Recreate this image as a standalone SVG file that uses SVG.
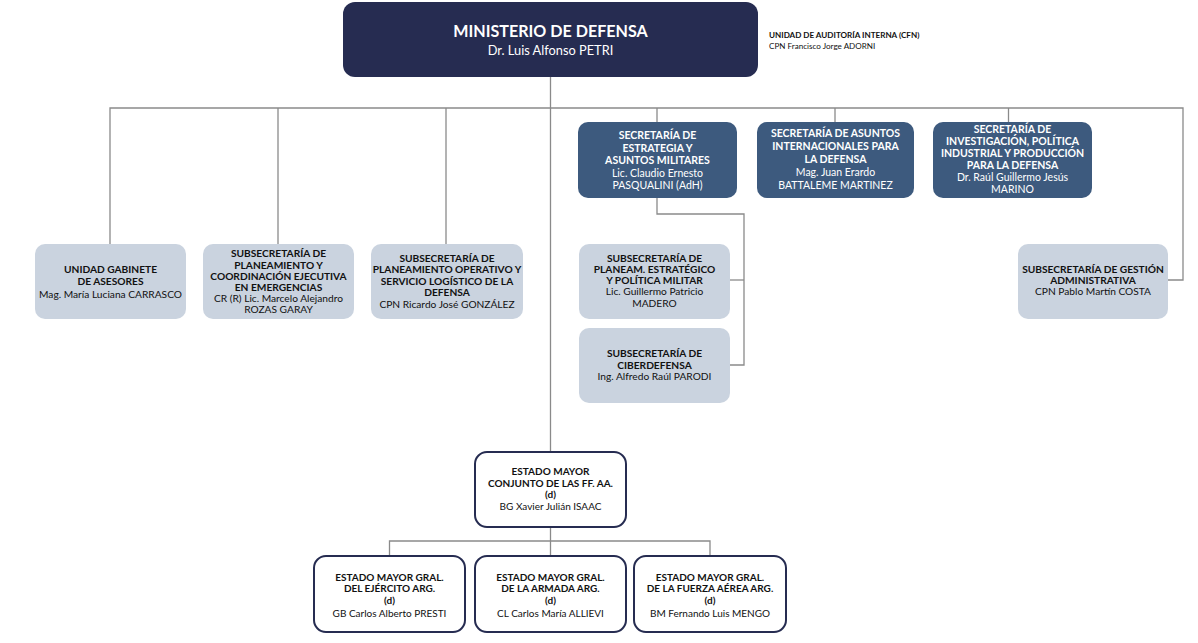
<svg xmlns="http://www.w3.org/2000/svg" width="1198" height="643" viewBox="0 0 1198 643">
<style>
text{font-family:Lato,"Liberation Sans",sans-serif;text-anchor:middle;font-size:10.2px;fill:#111}
.b{font-weight:bold}
.w{fill:#fff;font-size:10.5px}
.e{font-size:10px}
.sec{fill:#3d5a7e}
.sub{fill:#cad3df}
.emc{fill:#fff;stroke:#262c51;stroke-width:2}
.con{fill:none;stroke:#8a8a8a;stroke-width:1.3}
</style>
<rect width="1198" height="643" fill="#fff"/>
<g id="connectors" class="con">
<line x1="550.5" y1="77" x2="550.5" y2="452"/>
<polyline points="110,244 110,108 1183,108 1183,280 1168,280"/>
<line x1="278" y1="108" x2="278" y2="244"/>
<line x1="446" y1="108" x2="446" y2="244"/>
<line x1="657" y1="108" x2="657" y2="122"/>
<line x1="835" y1="108" x2="835" y2="122"/>
<line x1="1008.5" y1="108" x2="1008.5" y2="122"/>
<polyline points="657,198 657,214 744,214 744,365 730,365"/>
<line x1="730" y1="280" x2="744" y2="280"/>
<polyline points="389.5,556 389.5,541 710,541 710,556"/>
<line x1="550.5" y1="527" x2="550.5" y2="556"/>
</g>
<g id="ministerio">
<rect x="343" y="2" width="415" height="75" rx="12" fill="#262c51"/>
<text x="550.5" y="37" class="b" style="font-size:16.1px;fill:#fff">MINISTERIO DE DEFENSA</text>
<text x="550.5" y="55" style="font-size:12.8px;fill:#fff">Dr. Luis Alfonso PETRI</text>
</g>
<g id="auditoria">
<text x="769" y="38" class="b" style="text-anchor:start;font-size:8.1px">UNIDAD DE AUDITORÍA INTERNA (CFN)</text>
<text x="769" y="49" style="text-anchor:start;font-size:8.1px">CPN Francisco Jorge ADORNI</text>
</g>
<g id="sec-estrategia">
<rect x="578" y="122" width="159" height="76" rx="10" class="sec"/>
<text x="657.5" y="139" class="b w">SECRETARÍA DE</text>
<text x="657.5" y="151.5" class="b w">ESTRATEGIA Y</text>
<text x="657.5" y="164" class="b w">ASUNTOS MILITARES</text>
<text x="657.5" y="176.5" class="w">Lic. Claudio Ernesto</text>
<text x="657.5" y="189" class="w">PASQUALINI (AdH)</text>
</g>
<g id="sec-internacionales">
<rect x="757" y="122" width="157" height="76" rx="10" class="sec"/>
<text x="835.5" y="137" class="b w">SECRETARÍA DE ASUNTOS</text>
<text x="835.5" y="150" class="b w">INTERNACIONALES PARA</text>
<text x="835.5" y="163" class="b w">LA DEFENSA</text>
<text x="835.5" y="176" class="w">Mag. Juan Erardo</text>
<text x="835.5" y="189" class="w">BATTALEME MARTINEZ</text>
</g>
<g id="sec-investigacion">
<rect x="933" y="122" width="159" height="76" rx="10" class="sec"/>
<text x="1012.5" y="133" class="b w">SECRETARÍA DE</text>
<text x="1012.5" y="145" class="b w">INVESTIGACIÓN, POLÍTICA</text>
<text x="1012.5" y="157" class="b w">INDUSTRIAL Y PRODUCCIÓN</text>
<text x="1012.5" y="169" class="b w">PARA LA DEFENSA</text>
<text x="1012.5" y="181" class="w">Dr. Raúl Guillermo Jesús</text>
<text x="1012.5" y="193" class="w">MARINO</text>
</g>
<g id="gabinete">
<rect x="35" y="244" width="151" height="75" rx="10" class="sub"/>
<text x="110.5" y="272.5" class="b">UNIDAD GABINETE</text>
<text x="110.5" y="285" class="b">DE ASESORES</text>
<text x="110.5" y="297.5">Mag. María Luciana CARRASCO</text>
</g>
<g id="sub-emergencias">
<rect x="203" y="244" width="151" height="75" rx="10" class="sub"/>
<text x="278.5" y="257.3" class="b">SUBSECRETARÍA DE</text>
<text x="278.5" y="268.5" class="b">PLANEAMIENTO Y</text>
<text x="278.5" y="279.7" class="b">COORDINACIÓN EJECUTIVA</text>
<text x="278.5" y="290.9" class="b">EN EMERGENCIAS</text>
<text x="278.5" y="302.1">CR (R) Lic. Marcelo Alejandro</text>
<text x="278.5" y="313.3">ROZAS GARAY</text>
</g>
<g id="sub-logistico">
<rect x="371" y="244" width="152" height="75" rx="10" class="sub"/>
<text x="447" y="261.5" class="b">SUBSECRETARÍA DE</text>
<text x="447" y="273.1" class="b">PLANEAMIENTO OPERATIVO Y</text>
<text x="447" y="284.7" class="b">SERVICIO LOGÍSTICO DE LA</text>
<text x="447" y="296.3" class="b">DEFENSA</text>
<text x="447" y="307.9">CPN Ricardo José GONZÁLEZ</text>
</g>
<g id="sub-estrategico">
<rect x="579" y="244" width="151" height="75" rx="10" class="sub"/>
<text x="654.5" y="261.5" class="b">SUBSECRETARÍA DE</text>
<text x="654.5" y="272.8" class="b">PLANEAM. ESTRATÉGICO</text>
<text x="654.5" y="284.1" class="b">Y POLÍTICA MILITAR</text>
<text x="654.5" y="295.4">Lic. Guillermo Patricio</text>
<text x="654.5" y="306.7">MADERO</text>
</g>
<g id="sub-ciberdefensa">
<rect x="579" y="328" width="151" height="75" rx="10" class="sub"/>
<text x="654.5" y="357.2" class="b">SUBSECRETARÍA DE</text>
<text x="654.5" y="368.5" class="b">CIBERDEFENSA</text>
<text x="654.5" y="379.8">Ing. Alfredo Raúl PARODI</text>
</g>
<g id="sub-gestion">
<rect x="1018" y="244" width="150" height="75" rx="10" class="sub"/>
<text x="1093" y="272.8" class="b">SUBSECRETARÍA DE GESTIÓN</text>
<text x="1093" y="284.1" class="b">ADMINISTRATIVA</text>
<text x="1093" y="295.4">CPN Pablo Martín COSTA</text>
</g>
<g id="emc">
<rect x="475" y="452" width="151" height="75" rx="12" class="emc"/>
<text x="550.5" y="474.5" class="b e">ESTADO MAYOR</text>
<text x="550.5" y="486.5" class="b e">CONJUNTO DE LAS FF. AA.</text>
<text x="550.5" y="498" class="b e">(d)</text>
<text x="550.5" y="510" class="e">BG Xavier Julián ISAAC</text>
</g>
<g id="ejercito">
<rect x="314" y="556" width="151" height="76" rx="12" class="emc"/>
<text x="389.5" y="580.5" class="b e">ESTADO MAYOR GRAL.</text>
<text x="389.5" y="591.7" class="b e">DEL EJÉRCITO ARG.</text>
<text x="389.5" y="603.6" class="b e">(d)</text>
<text x="389.5" y="616.5" class="e">GB Carlos Alberto PRESTI</text>
</g>
<g id="armada">
<rect x="475" y="556" width="151" height="76" rx="12" class="emc"/>
<text x="550.5" y="580.5" class="b e">ESTADO MAYOR GRAL.</text>
<text x="550.5" y="591.7" class="b e">DE LA ARMADA ARG.</text>
<text x="550.5" y="603.6" class="b e">(d)</text>
<text x="550.5" y="616.5" class="e">CL Carlos María ALLIEVI</text>
</g>
<g id="fuerza-aerea">
<rect x="634" y="556" width="152" height="76" rx="12" class="emc"/>
<text x="710" y="580.5" class="b e">ESTADO MAYOR GRAL.</text>
<text x="710" y="591.7" class="b e">DE LA FUERZA AÉREA ARG.</text>
<text x="710" y="603.6" class="b e">(d)</text>
<text x="710" y="616.5" class="e">BM Fernando Luis MENGO</text>
</g>
</svg>
